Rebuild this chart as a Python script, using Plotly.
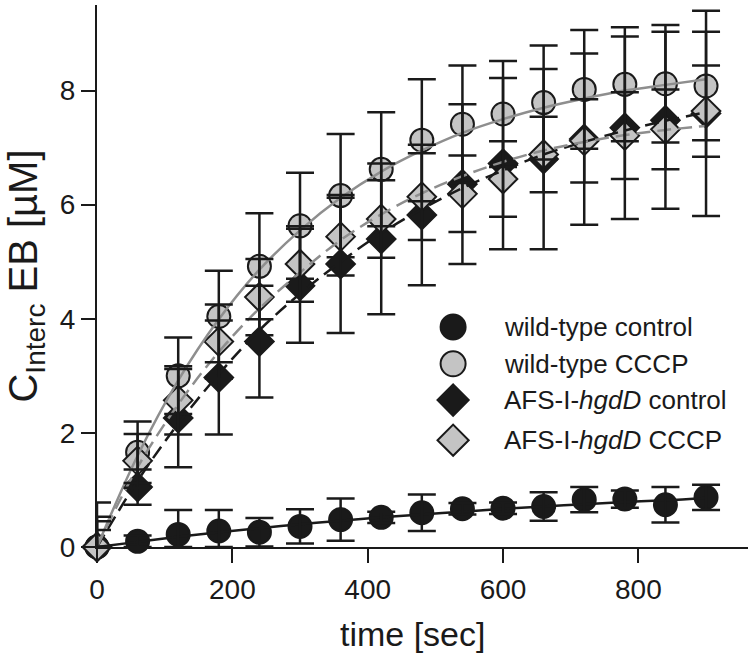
import plotly.graph_objects as go

# ---- data ----
time_s = [0, 60, 120, 180, 240, 300, 360, 420, 480, 540, 600, 660, 720, 780, 840, 900]

wt_control = [0, 0.10, 0.22, 0.28, 0.26, 0.36, 0.48, 0.52, 0.60, 0.67, 0.68, 0.71, 0.83, 0.84, 0.74, 0.87]
wt_control_err = [0.30, 0.10, 0.43, 0.37, 0.25, 0.30, 0.37, 0.10, 0.32, 0.10, 0.10, 0.25, 0.22, 0.15, 0.31, 0.22]

wt_cccp = [0, 1.66, 3.00, 4.04, 4.92, 5.63, 6.16, 6.62, 7.13, 7.41, 7.59, 7.79, 8.02, 8.11, 8.12, 8.08]
wt_cccp_err = [0.78, 0.54, 0.67, 0.80, 0.93, 0.93, 1.08, 1.00, 1.07, 1.03, 0.93, 1.00, 1.04, 1.00, 1.03, 0.95]

afs_control = [0, 1.05, 2.26, 2.97, 3.60, 4.58, 4.96, 5.40, 5.82, 6.36, 6.72, 6.80, 7.15, 7.35, 7.48, 7.60]
afs_control_err = [0.53, 0.31, 0.86, 1.00, 0.98, 1.00, 1.21, 1.32, 1.23, 1.40, 1.50, 1.58, 1.50, 1.60, 1.55, 1.80]

afs_cccp = [0, 1.51, 2.57, 3.60, 4.38, 4.96, 5.44, 5.75, 6.14, 6.19, 6.45, 6.88, 7.12, 7.21, 7.32, 7.64]
afs_cccp_err = [0.45, 0.47, 0.60, 0.65, 0.67, 0.66, 0.68, 0.68, 0.76, 0.67, 0.66, 0.66, 0.73, 0.76, 0.70, 0.80]

# fitted curves at the same times
fit_wt_control = [0, 0.09, 0.18, 0.26, 0.33, 0.40, 0.46, 0.52, 0.57, 0.62, 0.67, 0.71, 0.75, 0.79, 0.82, 0.86]
fit_wt_cccp = [0, 1.60, 2.92, 3.99, 4.86, 5.55, 6.12, 6.58, 6.95, 7.26, 7.50, 7.70, 7.86, 8.00, 8.10, 8.20]
fit_afs_control = [0, 1.16, 2.16, 3.03, 3.80, 4.44, 5.00, 5.50, 5.92, 6.29, 6.60, 6.88, 7.10, 7.30, 7.47, 7.62]
fit_afs_cccp = [0, 1.40, 2.50, 3.42, 4.18, 4.81, 5.38, 5.83, 6.20, 6.50, 6.75, 6.95, 7.10, 7.22, 7.31, 7.38]

labels = ["wild-type control", "wild-type CCCP",
          "AFS-I-<i>hgdD</i> control", "AFS-I-<i>hgdD</i> CCCP"]

x_ticks = [0, 200, 400, 600, 800]
y_ticks = [0, 2, 4, 6, 8]

BLACK = "#1a1a1a"
GREY = "#c4c4c4"
LINEGREY = "#8e8e8e"

series = [
    (wt_control, wt_control_err, "circle", BLACK, 23),
    (wt_cccp, wt_cccp_err, "circle", GREY, 23),
    (afs_control, afs_control_err, "diamond", BLACK, 22),
    (afs_cccp, afs_cccp_err, "diamond", GREY, 22),
]

fig = go.Figure()

# markers (drawn first, so lines and bars sit on top as in the reference)
for vals, err, sym, col, size in series:
    fig.add_trace(go.Scatter(
        x=time_s, y=vals, mode="markers", cliponaxis=False, showlegend=False,
        marker=dict(symbol=sym, size=size, color=col,
                    line=dict(color=BLACK, width=2)),
    ))

# fitted curves
fits = [
    (fit_wt_control, BLACK, "solid"),
    (fit_wt_cccp, LINEGREY, "solid"),
    (fit_afs_control, BLACK, "14px,7px"),
    (fit_afs_cccp, LINEGREY, "14px,7px"),
]
for vals, col, dash in fits:
    fig.add_trace(go.Scatter(
        x=time_s, y=vals, mode="lines", line_shape="spline", showlegend=False,
        line=dict(color=col, width=2.5, dash=dash),
    ))

# error bars
for vals, err, sym, col, size in series:
    minus = [min(e, v) for e, v in zip(err, vals)]
    fig.add_trace(go.Scatter(
        x=time_s, y=vals, mode="markers", cliponaxis=False, showlegend=False,
        marker=dict(size=1, color="rgba(0,0,0,0)"),
        error_y=dict(type="data", array=err, arrayminus=minus, symmetric=False,
                     color=BLACK, thickness=2.5, width=14),
    ))

# manual legend (positions in plot-area fractions)
leg_x = 0.547
leg_y = [0.406, 0.338, 0.271, 0.197]
for (vals, err, sym, col, size), ly, lab in zip(series, leg_y, labels):
    fig.add_trace(go.Scatter(
        x=[leg_x], y=[ly], xaxis="x2", yaxis="y2", mode="markers",
        cliponaxis=False, showlegend=False,
        marker=dict(symbol=sym, size=size + 2, color=col,
                    line=dict(color=BLACK, width=2)),
    ))
    fig.add_annotation(x=0.622, y=ly, xref="paper", yref="paper", text=lab,
                       showarrow=False, xanchor="left", yanchor="middle",
                       font=dict(size=26, color=BLACK))

# x-axis title
fig.add_annotation(x=0.484, y=-0.16, xref="paper", yref="paper",
                   text="time [sec]", showarrow=False,
                   xanchor="center", yanchor="middle",
                   font=dict(size=34, color=BLACK))

fig.update_layout(
    width=750, height=654,
    margin=dict(l=97, r=2, t=5, b=107),
    paper_bgcolor="white", plot_bgcolor="white",
    font=dict(family="Liberation Sans, Arial, sans-serif", color=BLACK),
    showlegend=False,
    xaxis=dict(range=[0, 962], tickvals=x_ticks, ticks="outside", ticklen=14,
               tickwidth=2, tickcolor=BLACK, showline=True, linecolor=BLACK,
               linewidth=2, showgrid=False, zeroline=False, automargin=False,
               tickfont=dict(size=28), ticklabelstandoff=2),
    yaxis=dict(range=[0, 9.5], tickvals=y_ticks, ticks="outside", ticklen=14,
               tickwidth=2, tickcolor=BLACK, showline=True, linecolor=BLACK,
               linewidth=2, showgrid=False, zeroline=False, automargin=False,
               tickfont=dict(size=28),
               title=dict(text="C<sub>Interc</sub> EB [µM]", font=dict(size=40),
                          standoff=10)),
    xaxis2=dict(overlaying="x", range=[0, 1], visible=False),
    yaxis2=dict(overlaying="y", range=[0, 1], visible=False),
)

fig.write_html("out.html",
               config={"displayModeBar": False},
               post_script="document.body.style.margin='0px';"
                           "document.body.style.overflow='hidden';")
